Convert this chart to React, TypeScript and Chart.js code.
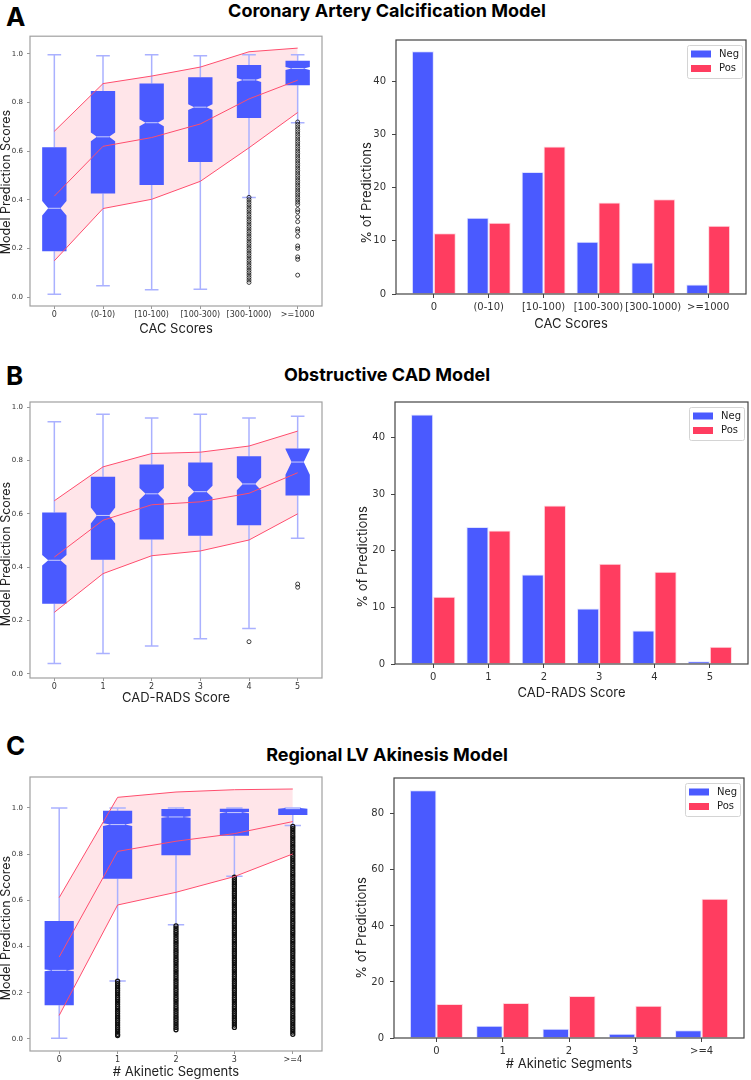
import React, { useEffect, useRef } from 'react';
import { Chart, registerables } from 'chart.js';

Chart.register(...registerables);

const BLUE = '#4a5aff';
const RED = '#ff3d60';
const BAND_LINE = '#ff4d6d';
const BAND_FILL = 'rgba(255, 40, 70, 0.12)';
const WHISKER = '#aab1ff';
const MEDIAN = '#c9cdff';
const TICK_FONT = '"DejaVu Sans", sans-serif';
const TITLE_FONT = 'Inter, "DejaVu Sans", sans-serif';

// ---------------- Panel A: Coronary Artery Calcification ----------------
const catsA = ['0', '(0-10)', '[10-100)', '[100-300)', '[300-1000)', '>=1000'];
const q1A = [0.188, 0.426, 0.461, 0.555, 0.736, 0.871];
const medA = [0.365, 0.659, 0.717, 0.781, 0.893, 0.940];
const q3A = [0.616, 0.848, 0.878, 0.904, 0.954, 0.972];
const whiskLoA = [0.011, 0.046, 0.030, 0.032, 0.409, 0.717];
const whiskHiA = [0.997, 0.993, 0.997, 0.993, 0.997, 0.997];
const notchA = [0.03, 0.018, 0.014, 0.012, 0.008, 0.006];
const bandHiA = [0.682, 0.878, 0.909, 0.946, 1.009, 1.024];
const bandMidA = [0.415, 0.620, 0.656, 0.712, 0.815, 0.892];
const bandLoA = [0.149, 0.364, 0.402, 0.476, 0.614, 0.759];
const outA4 = [0.41, 0.40, 0.39, 0.38, 0.37, 0.36, 0.35, 0.34, 0.33, 0.32, 0.31, 0.30, 0.29, 0.28, 0.27, 0.26, 0.25, 0.24, 0.23, 0.22, 0.21, 0.20, 0.19, 0.18, 0.17, 0.16, 0.15, 0.14, 0.13, 0.12, 0.11, 0.10, 0.09, 0.08, 0.07, 0.06];
const outA5 = [0.72, 0.71, 0.70, 0.69, 0.68, 0.67, 0.66, 0.65, 0.64, 0.63, 0.62, 0.61, 0.60, 0.59, 0.58, 0.57, 0.56, 0.55, 0.54, 0.53, 0.52, 0.51, 0.50, 0.49, 0.48, 0.47, 0.46, 0.45, 0.44, 0.43, 0.42, 0.41, 0.40, 0.39, 0.38, 0.36, 0.35, 0.33, 0.31, 0.28, 0.27, 0.25, 0.21, 0.20, 0.165, 0.155, 0.09];
const outliersA = [[], [], [], [], outA4, outA5];
const negA = [45.6, 14.3, 22.9, 9.8, 5.9, 1.8];
const posA = [11.4, 13.4, 27.7, 17.2, 17.8, 12.8];

// ---------------- Panel B: Obstructive CAD ----------------
const catsB = ['0', '1', '2', '3', '4', '5'];
const q1B = [0.263, 0.428, 0.504, 0.518, 0.557, 0.669];
const medB = [0.426, 0.594, 0.675, 0.683, 0.712, 0.794];
const q3B = [0.605, 0.739, 0.785, 0.792, 0.816, 0.845];
const whiskLoB = [0.039, 0.077, 0.105, 0.132, 0.170, 0.509];
const whiskHiB = [0.945, 0.973, 0.959, 0.973, 0.959, 0.966];
const notchB = [0.02, 0.03, 0.022, 0.022, 0.024, 0.048];
const bandHiB = [0.649, 0.776, 0.826, 0.831, 0.854, 0.910];
const bandMidB = [0.438, 0.576, 0.634, 0.645, 0.677, 0.754];
const bandLoB = [0.231, 0.376, 0.443, 0.461, 0.502, 0.600];
const outliersB = [[], [], [], [], [0.121], [0.337, 0.325]];
const negB = [44.1, 24.2, 15.8, 9.8, 5.9, 0.5];
const posB = [11.9, 23.6, 28.0, 17.7, 16.3, 3.05];

// ---------------- Panel C: Regional LV Akinesis ----------------
const catsC = ['0', '1', '2', '3', '>=4'];
const q1C = [0.146, 0.694, 0.795, 0.880, 0.970];
const medC = [0.297, 0.928, 0.961, 0.980, 0.997];
const q3C = [0.511, 0.988, 0.996, 0.997, 1.0];
const whiskLoC = [0.003, 0.251, 0.495, 0.704, 0.924];
const whiskHiC = [1.0, 1.0, 1.0, 1.0, 1.0];
const notchC = [0.004, 0.006, 0.003, 0.003, 0.002];
const bandHiC = [0.612, 1.046, 1.069, 1.079, 1.082];
const bandMidC = [0.355, 0.812, 0.856, 0.889, 0.941];
const bandLoC = [0.102, 0.580, 0.635, 0.703, 0.801];
const outC1 = [0.25, 0.24, 0.23, 0.22, 0.21, 0.20, 0.19, 0.18, 0.17, 0.16, 0.15, 0.14, 0.13, 0.12, 0.11, 0.10, 0.09, 0.08, 0.07, 0.06, 0.05, 0.04, 0.03, 0.02, 0.015];
const outC2 = [0.49, 0.48, 0.47, 0.46, 0.45, 0.44, 0.43, 0.42, 0.41, 0.40, 0.39, 0.38, 0.37, 0.36, 0.35, 0.34, 0.33, 0.32, 0.31, 0.30, 0.29, 0.28, 0.27, 0.26, 0.25, 0.24, 0.23, 0.22, 0.21, 0.20, 0.19, 0.18, 0.17, 0.16, 0.15, 0.14, 0.13, 0.12, 0.11, 0.10, 0.09, 0.08, 0.07, 0.06, 0.05, 0.04];
const outC3 = [0.70, 0.69, 0.68, 0.67, 0.66, 0.65, 0.64, 0.63, 0.62, 0.61, 0.60, 0.59, 0.58, 0.57, 0.56, 0.55, 0.54, 0.53, 0.52, 0.51, 0.50, 0.49, 0.48, 0.47, 0.46, 0.45, 0.44, 0.43, 0.42, 0.41, 0.40, 0.39, 0.38, 0.37, 0.36, 0.35, 0.34, 0.33, 0.32, 0.31, 0.30, 0.29, 0.28, 0.27, 0.26, 0.25, 0.24, 0.23, 0.22, 0.21, 0.20, 0.19, 0.18, 0.17, 0.16, 0.15, 0.14, 0.13, 0.12, 0.11, 0.10, 0.09, 0.08, 0.07, 0.06, 0.05];
const outC4 = [0.92, 0.91, 0.90, 0.89, 0.88, 0.87, 0.86, 0.85, 0.84, 0.83, 0.82, 0.81, 0.80, 0.79, 0.78, 0.77, 0.76, 0.75, 0.74, 0.73, 0.72, 0.71, 0.70, 0.69, 0.68, 0.67, 0.66, 0.65, 0.64, 0.63, 0.62, 0.61, 0.60, 0.59, 0.58, 0.57, 0.56, 0.55, 0.54, 0.53, 0.52, 0.51, 0.50, 0.49, 0.48, 0.47, 0.46, 0.45, 0.44, 0.43, 0.42, 0.41, 0.40, 0.39, 0.38, 0.37, 0.36, 0.35, 0.34, 0.33, 0.32, 0.31, 0.30, 0.29, 0.28, 0.27, 0.26, 0.25, 0.24, 0.23, 0.22, 0.21, 0.20, 0.19, 0.18, 0.17, 0.16, 0.15, 0.14, 0.13, 0.12, 0.11, 0.10, 0.09, 0.08, 0.07, 0.06, 0.05, 0.04, 0.03, 0.02];
const outliersC = [[], outC1, outC2, outC3, outC4];
const negC = [88.4, 4.4, 3.3, 1.5, 2.8];
const posC = [12.1, 12.5, 15.0, 11.5, 49.7];

// tick labels
const scoreTicks = [0, 0.2, 0.4, 0.6, 0.8, 1.0];
const pctTicksAB = [0, 10, 20, 30, 40];
const pctTicksC = [0, 20, 40, 60, 80];
const seriesLabels = ['Neg', 'Pos'];

const panelTitles = ['Coronary Artery Calcification Model', 'Obstructive CAD Model', 'Regional LV Akinesis Model'];
const panelLetters = ['A', 'B', 'C'];

function makeFrame(color: string, width: number) {
  return {
    id: 'frame',
    afterDatasetsDraw(chart: any) {
      const { ctx, chartArea } = chart;
      ctx.save();
      ctx.strokeStyle = color;
      ctx.lineWidth = width;
      ctx.strokeRect(chartArea.left, chartArea.top, chartArea.right - chartArea.left, chartArea.bottom - chartArea.top);
      ctx.restore();
    },
  };
}

function makeYLabel(text: string, x: number, dy: number, size: number) {
  return {
    id: 'yLabel',
    afterDraw(chart: any) {
      const { ctx, chartArea } = chart;
      ctx.save();
      ctx.translate(x, (chartArea.top + chartArea.bottom) / 2 + dy);
      ctx.rotate(-Math.PI / 2);
      ctx.font = size + 'px ' + TITLE_FONT;
      ctx.fillStyle = '#222';
      ctx.textAlign = 'center';
      ctx.textBaseline = 'middle';
      ctx.fillText(text, 0, 0);
      ctx.restore();
    },
  };
}

function axisCommon(tickSize: number, gridColor: string, tickLen: number) {
  return {
    grid: { display: true, drawOnChartArea: false, drawTicks: true, tickLength: tickLen, color: gridColor, offset: false },
    border: { display: false },
    ticks: { font: { family: TICK_FONT, size: tickSize }, color: '#333', autoSkip: false, maxRotation: 0, minRotation: 0 },
  };
}

function BoxChart(p: any) {
  const ref = useRef<HTMLCanvasElement | null>(null);
  useEffect(() => {
    const pts = (arr: number[]) => arr.map((v, i) => ({ x: i, y: v }));
    const outPts = p.outliers.flatMap((arr: number[], i: number) => arr.map((v) => ({ x: i, y: v })));
    const boxPlugin = {
      id: 'boxPlot',
      beforeDatasetsDraw(chart: any) {
        const { ctx } = chart;
        const xs = chart.scales.x;
        const ys = chart.scales.y;
        const py = (v: number) => ys.getPixelForValue(v);
        ctx.save();
        for (let i = 0; i < p.med.length; i++) {
          const cx = xs.getPixelForValue(i);
          const hw = xs.getPixelForValue(i + 0.25) - cx;
          const cap = xs.getPixelForValue(i + 0.14) - cx;
          ctx.strokeStyle = WHISKER;
          ctx.lineWidth = 1.5;
          ctx.beginPath();
          ctx.moveTo(cx, py(p.q3[i]));
          ctx.lineTo(cx, py(p.hi[i]));
          ctx.moveTo(cx, py(p.q1[i]));
          ctx.lineTo(cx, py(p.lo[i]));
          ctx.moveTo(cx - cap, py(p.hi[i]));
          ctx.lineTo(cx + cap, py(p.hi[i]));
          ctx.moveTo(cx - cap, py(p.lo[i]));
          ctx.lineTo(cx + cap, py(p.lo[i]));
          ctx.stroke();
          const nlo = p.med[i] - p.notch[i];
          const nhi = p.med[i] + p.notch[i];
          ctx.fillStyle = BLUE;
          ctx.beginPath();
          ctx.moveTo(cx - hw, py(p.q1[i]));
          ctx.lineTo(cx + hw, py(p.q1[i]));
          ctx.lineTo(cx + hw, py(nlo));
          ctx.lineTo(cx + hw / 2, py(p.med[i]));
          ctx.lineTo(cx + hw, py(nhi));
          ctx.lineTo(cx + hw, py(p.q3[i]));
          ctx.lineTo(cx - hw, py(p.q3[i]));
          ctx.lineTo(cx - hw, py(nhi));
          ctx.lineTo(cx - hw / 2, py(p.med[i]));
          ctx.lineTo(cx - hw, py(nlo));
          ctx.closePath();
          ctx.fill();
          ctx.strokeStyle = MEDIAN;
          ctx.lineWidth = 1;
          ctx.beginPath();
          ctx.moveTo(cx - hw / 2, py(p.med[i]));
          ctx.lineTo(cx + hw / 2, py(p.med[i]));
          ctx.stroke();
        }
        ctx.restore();
      },
    };
    const xc = axisCommon(8, '#999', 3);
    const yc = axisCommon(7, '#999', 3);
    const chart = new Chart(ref.current as HTMLCanvasElement, {
      type: 'line',
      data: {
        datasets: [
          { label: 'upper', data: pts(p.bandHi), borderColor: BAND_LINE, borderWidth: 1, pointRadius: 0, fill: { target: 2 }, backgroundColor: BAND_FILL },
          { label: 'mean', data: pts(p.bandMid), borderColor: BAND_LINE, borderWidth: 1, pointRadius: 0, fill: false },
          { label: 'lower', data: pts(p.bandLo), borderColor: BAND_LINE, borderWidth: 1, pointRadius: 0, fill: false },
          { label: 'outliers', data: outPts, showLine: false, pointRadius: 2, pointBorderColor: '#111', pointBackgroundColor: 'rgba(0,0,0,0)', pointBorderWidth: p.outlierWidth, fill: false },
        ],
      } as any,
      plugins: [boxPlugin, makeFrame('#a0a0a0', 1.2), makeYLabel('Model Prediction Scores', p.yLabelX, p.yLabelDy, 12.5)],
      options: {
        responsive: false,
        animation: false,
        events: [],
        layout: { padding: { top: p.pad.top, right: p.pad.right, bottom: p.pad.bottom, left: 0 } },
        plugins: { legend: { display: false }, tooltip: { enabled: false }, filler: { drawTime: 'beforeDatasetsDraw' } } as any,
        scales: {
          x: {
            type: 'linear',
            offset: false,
            min: -0.5,
            max: p.cats.length - 0.5,
            afterBuildTicks: (s: any) => { s.ticks = p.cats.map((_: string, i: number) => ({ value: i })); },
            afterFit: (s: any) => { s.height = p.xh; },
            grid: xc.grid,
            border: xc.border,
            ticks: { ...xc.ticks, padding: 1, callback: (v: any) => p.cats[Math.round(v)] },
            title: { display: true, text: p.xTitle, font: { family: TITLE_FONT, size: 13 }, color: '#222', padding: 0 },
          },
          y: {
            type: 'linear',
            min: p.yMin,
            max: p.yMax,
            afterBuildTicks: (s: any) => { s.ticks = p.yTicks.map((v: number) => ({ value: v })); },
            afterFit: (s: any) => { s.width = p.yw; },
            grid: yc.grid,
            border: yc.border,
            ticks: { ...yc.ticks, padding: 4, callback: (v: any) => Number(v).toFixed(1) },
          },
        },
      } as any,
    });
    return () => chart.destroy();
  }, []);
  return <canvas ref={ref} width={p.pos.w} height={p.pos.h} style={{ position: 'absolute', left: p.pos.left, top: p.pos.top, width: p.pos.w, height: p.pos.h }} />;
}

function BarChart(p: any) {
  const ref = useRef<HTMLCanvasElement | null>(null);
  useEffect(() => {
    const pts = (arr: number[]) => arr.map((v, i) => ({ x: i, y: v }));
    const legendPlugin = {
      id: 'boxLegend',
      afterDraw(chart: any) {
        const { ctx, chartArea } = chart;
        const w = 55;
        const h = 33;
        const x0 = chartArea.right - 4 - w;
        const y0 = chartArea.top + 5;
        ctx.save();
        ctx.fillStyle = 'rgba(255,255,255,0.85)';
        ctx.strokeStyle = '#d4d4d4';
        ctx.lineWidth = 1;
        ctx.beginPath();
        if (ctx.roundRect) ctx.roundRect(x0 + 0.5, y0 + 0.5, w, h, 2); else ctx.rect(x0 + 0.5, y0 + 0.5, w, h);
        ctx.fill();
        ctx.stroke();
        chart.data.datasets.forEach((ds: any, k: number) => {
          const cy = y0 + 9 + k * 14.5;
          ctx.fillStyle = ds.backgroundColor;
          ctx.fillRect(x0 + 4, cy - 3.5, 20, 7);
          ctx.fillStyle = '#222';
          ctx.font = '10px ' + TICK_FONT;
          ctx.textAlign = 'left';
          ctx.textBaseline = 'middle';
          ctx.fillText(ds.label, x0 + 32, cy);
        });
        ctx.restore();
      },
    };
    const xc = axisCommon(10, '#444', 4);
    const yc = axisCommon(10, '#444', 4);
    const chart = new Chart(ref.current as HTMLCanvasElement, {
      type: 'bar',
      data: {
        datasets: [
          { label: seriesLabels[0], data: pts(p.neg), backgroundColor: BLUE, borderColor: '#dfe2ff', borderWidth: 1, categoryPercentage: 0.8, barPercentage: 1.0 },
          { label: seriesLabels[1], data: pts(p.pos), backgroundColor: RED, borderColor: '#ffd9df', borderWidth: 1, categoryPercentage: 0.8, barPercentage: 1.0 },
        ],
      } as any,
      plugins: [legendPlugin, makeFrame('#444', 1.2), makeYLabel('% of Predictions', p.yLabelX, p.yLabelDy, 13)],
      options: {
        responsive: false,
        animation: false,
        events: [],
        layout: { padding: { top: p.pad.top, right: p.pad.right, bottom: p.pad.bottom, left: 0 } },
        plugins: { legend: { display: false }, tooltip: { enabled: false } },
        scales: {
          x: {
            type: 'linear',
            offset: false,
            min: p.xMin,
            max: p.xMax,
            afterBuildTicks: (s: any) => { s.ticks = p.cats.map((_: string, i: number) => ({ value: i })); },
            afterFit: (s: any) => { s.height = p.xh; },
            grid: xc.grid,
            border: xc.border,
            ticks: { ...xc.ticks, padding: 3, callback: (v: any) => p.cats[Math.round(v)] },
            title: { display: true, text: p.xTitle, font: { family: TITLE_FONT, size: 13 }, color: '#222', padding: 0 },
          },
          y: {
            type: 'linear',
            min: 0,
            max: p.yMax,
            afterBuildTicks: (s: any) => { s.ticks = p.yTicks.map((v: number) => ({ value: v })); },
            afterFit: (s: any) => { s.width = p.yw; },
            grid: yc.grid,
            border: yc.border,
            ticks: { ...yc.ticks, padding: 6, callback: (v: any) => String(v) },
          },
        },
      } as any,
    });
    return () => chart.destroy();
  }, []);
  return <canvas ref={ref} width={p.posBox.w} height={p.posBox.h} style={{ position: 'absolute', left: p.posBox.left, top: p.posBox.top, width: p.posBox.w, height: p.posBox.h }} />;
}

const letterTops = [4, 363, 733];
const titleTops = [0, 364, 744];

export default function App() {
  return (
    <div style={{ position: 'absolute', left: 0, top: 0, width: 751, height: 1080, background: '#fff', overflow: 'hidden' }}>
      {panelLetters.map((l, i) => (
        <div key={'l' + i} style={{ position: 'absolute', left: 6, top: letterTops[i], fontFamily: TITLE_FONT, fontWeight: 700, fontSize: 26, lineHeight: '26px', color: '#000' }}>{l}</div>
      ))}
      {panelTitles.map((t, i) => (
        <div key={'t' + i} style={{ position: 'absolute', left: 0, width: 774, top: titleTops[i], textAlign: 'center', fontFamily: TITLE_FONT, fontWeight: 700, fontSize: 18, lineHeight: '22px', color: '#000' }}>{t}</div>
      ))}

      <BoxChart cats={catsA} q1={q1A} med={medA} q3={q3A} lo={whiskLoA} hi={whiskHiA} notch={notchA}
        bandHi={bandHiA} bandMid={bandMidA} bandLo={bandLoA} outliers={outliersA} outlierWidth={0.8}
        yMin={-0.037} yMax={1.073} yTicks={scoreTicks} xTitle="CAC Scores"
        pos={{ left: 0, top: 28, w: 330, h: 309 }} pad={{ top: 5, right: 8, bottom: 0 }} yw={30} xh={31}
        yLabelX={6} yLabelDy={11} />
      <BarChart cats={catsA} neg={negA} pos={posA} xMin={-0.69} xMax={5.69} yMax={47.7} yTicks={pctTicksAB} xTitle="CAC Scores"
        posBox={{ left: 350, top: 28, w: 401, h: 309 }} pad={{ top: 4, right: 5, bottom: 5 }} yw={46} xh={38}
        yLabelX={17} yLabelDy={26} />

      <BoxChart cats={catsB} q1={q1B} med={medB} q3={q3B} lo={whiskLoB} hi={whiskHiB} notch={notchB}
        bandHi={bandHiB} bandMid={bandMidB} bandLo={bandLoB} outliers={outliersB} outlierWidth={0.8}
        yMin={-0.015} yMax={1.019} yTicks={scoreTicks} xTitle="CAD-RADS Score"
        pos={{ left: 0, top: 390, w: 330, h: 316 }} pad={{ top: 12, right: 8, bottom: 0 }} yw={30} xh={28}
        yLabelX={6} yLabelDy={14} />
      <BarChart cats={catsB} neg={negB} pos={posB} xMin={-0.69} xMax={5.69} yMax={46.3} yTicks={pctTicksAB} xTitle="CAD-RADS Score"
        posBox={{ left: 350, top: 390, w: 401, h: 311 }} pad={{ top: 11, right: 3, bottom: 0 }} yw={45} xh={37}
        yLabelX={13} yLabelDy={24} />

      <BoxChart cats={catsC} q1={q1C} med={medC} q3={q3C} lo={whiskLoC} hi={whiskHiC} notch={notchC}
        bandHi={bandHiC} bandMid={bandMidC} bandLo={bandLoC} outliers={outliersC} outlierWidth={1.3}
        yMin={-0.052} yMax={1.134} yTicks={scoreTicks} xTitle="# Akinetic Segments"
        pos={{ left: 0, top: 765, w: 330, h: 315 }} pad={{ top: 12, right: 8, bottom: 0 }} yw={30} xh={29}
        yLabelX={6} yLabelDy={14} />
      <BarChart cats={catsC} neg={negC} pos={posC} xMin={-0.64} xMax={4.64} yMax={92.8} yTicks={pctTicksC} xTitle="# Akinetic Segments"
        posBox={{ left: 350, top: 765, w: 401, h: 307 }} pad={{ top: 13, right: 7, bottom: 0 }} yw={44} xh={34}
        yLabelX={12} yLabelDy={20} />
    </div>
  );
}
